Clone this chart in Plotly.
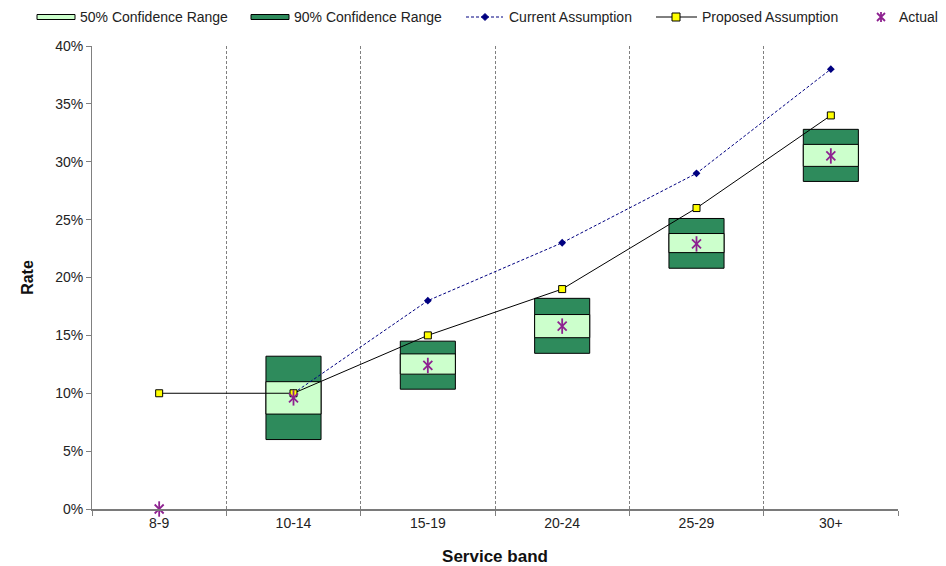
import plotly.graph_objects as go

# Service bands and rates (fractions)
bands = ["8-9", "10-14", "15-19", "20-24", "25-29", "30+"]

low90 = [None, 0.060, 0.1035, 0.1345, 0.208, 0.283]
high90 = [None, 0.132, 0.145, 0.182, 0.251, 0.328]
low50 = [None, 0.082, 0.1165, 0.148, 0.2215, 0.296]
high50 = [None, 0.110, 0.134, 0.168, 0.238, 0.315]

current = [None, 0.10, 0.18, 0.23, 0.29, 0.38]
proposed = [0.10, 0.10, 0.15, 0.19, 0.26, 0.34]
actual = [0.0, 0.096, 0.124, 0.158, 0.229, 0.305]

legend_labels = ["50% Confidence Range", "90% Confidence Range",
                 "Current Assumption", "Proposed Assumption", "Actual"]


def span(lo, hi):
    return [None if a is None else b - a for a, b in zip(lo, hi)]


W, H = 946, 566
ML, MR, MT, MB = 92, 48, 46, 57
PW, PH = W - ML - MR, H - MT - MB

font_family = "Liberation Sans, Arial, sans-serif"
box_w = 0.41
light = "#CCFFCC"
dark = "#2E8B5C"
navy = "#000080"
purple = "#8E2290"

fig = go.Figure()

fig.add_trace(go.Bar(
    x=bands, y=span(low90, high90), base=low90, width=box_w,
    name=legend_labels[1],
    marker=dict(color=dark, line=dict(color="#000000", width=1)),
))
fig.add_trace(go.Bar(
    x=bands, y=span(low50, high50), base=low50, width=box_w,
    name=legend_labels[0],
    marker=dict(color=light, line=dict(color="#000000", width=1)),
))
fig.add_trace(go.Scatter(
    x=bands, y=current, name=legend_labels[2], mode="lines+markers",
    line=dict(color=navy, width=1, dash="3px,2px"),
    marker=dict(symbol="diamond", size=6, color=navy),
))
fig.add_trace(go.Scatter(
    x=bands, y=proposed, name=legend_labels[3], mode="lines+markers",
    line=dict(color="#000000", width=1),
    marker=dict(symbol="square", size=7, color="#FFFF00",
                line=dict(color="#000000", width=1)),
))
# six-armed star: a diagonal cross plus a vertical stroke
for sym in ("x-thin-open", "line-ns-open"):
    fig.add_trace(go.Scatter(
        x=bands, y=actual, name=legend_labels[4], mode="markers",
        cliponaxis=False,
        marker=dict(symbol=sym, size=9 if sym.startswith("x") else 11,
                    color=purple, line=dict(color=purple, width=1.8)),
    ))


# ---- legend row drawn with shapes and text at pixel positions ----
def px_x(px):
    return (px - ML) / PW


def px_y(py):
    return (H - MB - py) / PH


shapes = []
annotations = []
row_y = 17


def rect_icon(x0, x1, fill):
    shapes.append(dict(type="rect", xref="paper", yref="paper",
                       x0=px_x(x0), x1=px_x(x1), y0=px_y(row_y + 2.5), y1=px_y(row_y - 2.5),
                       fillcolor=fill, line=dict(color="#000000", width=1), layer="above"))


def line_icon(x0, x1, color, dash):
    shapes.append(dict(type="line", xref="paper", yref="paper",
                       x0=px_x(x0), x1=px_x(x1), y0=px_y(row_y), y1=px_y(row_y),
                       line=dict(color=color, width=1, dash=dash), layer="above"))


def glyph(cx, path, fill, line_color, lw=1):
    shapes.append(dict(type="path", xref="paper", yref="paper",
                       xsizemode="pixel", ysizemode="pixel",
                       xanchor=px_x(cx), yanchor=px_y(row_y),
                       path=path, fillcolor=fill,
                       line=dict(color=line_color, width=lw), layer="above"))


def label(x, text):
    annotations.append(dict(xref="paper", yref="paper", x=px_x(x), y=px_y(row_y),
                            xanchor="left", yanchor="middle", showarrow=False,
                            text=text, font=dict(size=14, color="#222222")))


rect_icon(37, 75, light)
label(78, legend_labels[0])
rect_icon(251, 289, dark)
label(292, legend_labels[1])
line_icon(466, 503, navy, "3px,2px")
glyph(485, "M -3.5 0 L 0 3.5 L 3.5 0 L 0 -3.5 Z", navy, navy)
label(507, legend_labels[2])
line_icon(656, 697, "#000000", "solid")
glyph(676, "M -4 -4 L 4 -4 L 4 4 L -4 4 Z", "#FFFF00", "#000000")
label(700, legend_labels[3])
glyph(881, "M -4 -4 L 4 4 M -4 4 L 4 -4 M 0 -5 L 0 5", "rgba(0,0,0,0)", purple, 1.8)
label(897, legend_labels[4])

fig.update_layout(
    width=W, height=H,
    margin=dict(l=ML, r=MR, t=MT, b=MB),
    paper_bgcolor="white", plot_bgcolor="white",
    barmode="overlay",
    showlegend=False,
    font=dict(family=font_family, size=14, color="#222222"),
    shapes=shapes, annotations=annotations,
    xaxis=dict(
        type="category", tickson="boundaries", automargin=False,
        showgrid=True, gridcolor="#808080", griddash="3px,2px", gridwidth=1,
        showline=True, linecolor="#7a7a7a", linewidth=2,
        ticks="outside", ticklen=5, tickcolor="#808080",
        tickfont=dict(size=14, color="#222222"),
        title=dict(text="<b>Service band</b>", font=dict(size=17, color="#111111"), standoff=20),
        range=[-0.5, 5.5], zeroline=False,
    ),
    yaxis=dict(
        range=[0, 0.40], dtick=0.05, tickformat=".0%", automargin=False,
        showgrid=False, zeroline=False,
        showline=True, linecolor="#808080", linewidth=1,
        ticks="outside", ticklen=5, tickcolor="#808080",
        tickfont=dict(size=14, color="#222222"),
        title=dict(text="<b>Rate</b>", font=dict(size=16, color="#111111"), standoff=17),
    ),
)

fig.write_html("out.html")
